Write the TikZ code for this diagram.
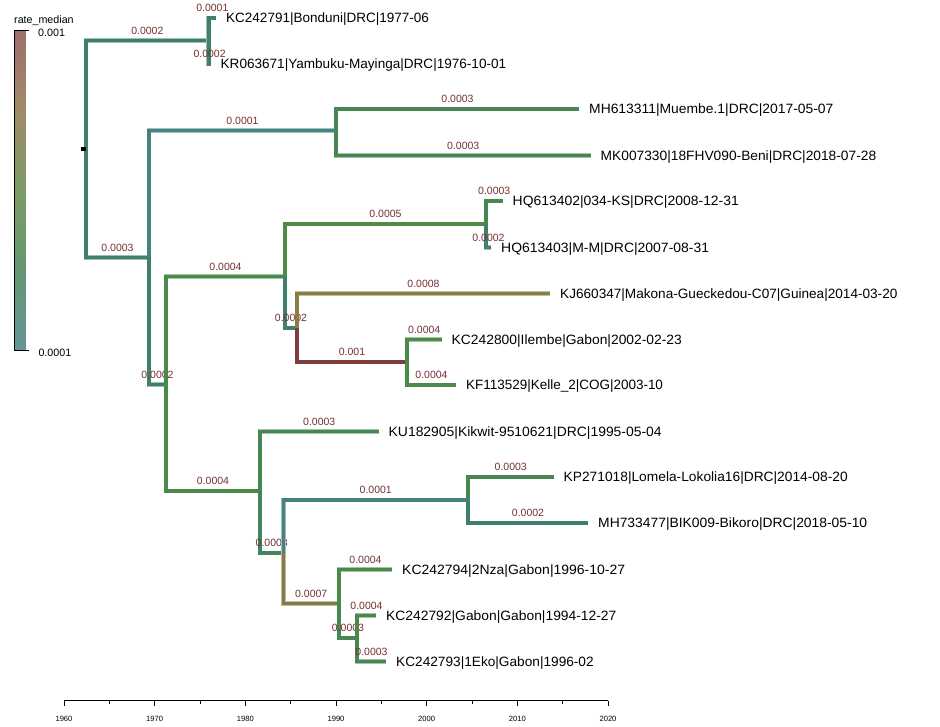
\documentclass[tikz,border=0pt]{standalone}
\usepackage{fontspec}
\usepackage{graphicx}
\setmainfont{Liberation Sans}
\usetikzlibrary{calc}
\definecolor{cA}{HTML}{458281}
\definecolor{cB}{HTML}{3F7F6C}
\definecolor{cC}{HTML}{488655}
\definecolor{cC2}{HTML}{44855F}
\definecolor{cD}{HTML}{4A8A48}
\definecolor{cE}{HTML}{4F8B42}
\definecolor{cO}{HTML}{877E45}
\definecolor{cO2}{HTML}{817C46}
\definecolor{cR}{HTML}{7E3D3D}
\definecolor{labc}{HTML}{762F2F}
\definecolor{lg0}{RGB}{160,110,110}
\definecolor{lg1}{RGB}{160,138,105}
\definecolor{lg2}{RGB}{125,155,100}
\definecolor{lg3}{RGB}{100,152,115}
\definecolor{lg4}{RGB}{100,150,150}
\tikzset{
  br/.style={draw=#1, line width=3.6pt, line join=miter, line cap=butt,
    preaction={draw=#1!50!white, line width=4.5pt}},
  lab/.style={anchor=base, inner sep=0pt, text=labc, font=\fontsize{10.5}{12}\selectfont},
  leaf/.style={anchor=base west, inner sep=0pt, xshift=10pt, yshift=-4.8pt, font=\fontsize{13.5}{16}\selectfont},
  lgd/.style={anchor=base west, inner sep=0pt, font=\fontsize{10.7}{12}\selectfont},
  axl/.style={anchor=base, inner sep=0pt, font=\fontsize{7.6}{9}\selectfont},
}
\newcommand{\tb}[4]{%
  \draw[br=#1] (#2) |- (#3);
  \node[lab] (lab-#3) at ($(#2 |- #3)!0.5!(#3)+(0,-6.2)$) {#4};}
\newcommand{\leafnode}[4]{%
  \node[leaf] (#1) at (#2) {\resizebox{#3pt}{\height}{#4}};}
\begin{document}
\begin{tikzpicture}[x=1pt,y=-1pt]
\useasboundingbox (0,0) rectangle (940,727);

% legend
\foreach \ya/\ca/\cb in {31/lg0/lg1, 111/lg1/lg2, 191/lg2/lg3, 271/lg3/lg4}{
  \foreach \k in {0,...,19}{
    \pgfmathtruncatemacro\t{\k*100/19}
    \fill[\cb!\t!\ca] (14.3,\ya+\k*4-0.1) rectangle (25.5,\ya+\k*4+4.1);
  }
}
\draw[line width=1pt] (29,31) -- (14,31) -- (14,351) -- (29,351);
\node[lgd] (lgtitle) at (14,24) {rate\_median};
\node[lgd] (lgmax) at (38,36.7) {0.001};
\node[lgd] (lgmin) at (38.3,356.5) {0.0001};

% axis
\draw[line width=0.9pt] (64,700.5) -- (608,700.5);
\foreach \i/\yr in {0/1960,1/1970,2/1980,3/1990,4/2000,5/2010,6/2020}{
  \draw[line width=0.9pt] (64+\i*90.667,700.5) -- (64+\i*90.667,705.5);
  \node[axl] (ax\i) at (64+\i*90.667,721) {\yr};
}
\foreach \i in {0,...,5}{
  \draw[line width=0.9pt] (109.33+\i*90.667,700.5) -- (109.33+\i*90.667,703.5);
}

% tree coordinates
\coordinate (stub) at (81,149.5);
\coordinate (root) at (86,149.5);
\coordinate (nT) at (208.7,40.5);
\coordinate (t1) at (216,18);
\coordinate (t2) at (210.5,64);
\coordinate (nU) at (149,257.5);
\coordinate (nC) at (336,130.5);
\coordinate (t3) at (579,109);
\coordinate (t4) at (590.5,155.5);
\coordinate (nV) at (166,384.5);
\coordinate (nA) at (285,276.5);
\coordinate (nA1) at (486,224);
\coordinate (t5) at (502.5,201);
\coordinate (t6) at (491,247.5);
\coordinate (nA2) at (297,328);
\coordinate (t7) at (550,293.5);
\coordinate (nR) at (407,362);
\coordinate (t8) at (441.5,339.5);
\coordinate (t9) at (456,385);
\coordinate (nB) at (260,491);
\coordinate (t10) at (378.5,431.5);
\coordinate (nB2) at (283.5,553);
\coordinate (nBl) at (468,500);
\coordinate (t11) at (553.5,477);
\coordinate (t12) at (588,523);
\coordinate (nBo) at (339,603.5);
\coordinate (t13) at (392,569.5);
\coordinate (nBq) at (357,638);
\coordinate (t14) at (376,615.5);
\coordinate (t15) at (386,661.5);

% branches
\tb{cB}{root}{nT}{0.0002}
\tb{cB}{nT}{t1}{0.0001}
\tb{cB}{nT}{t2}{0.0002}
\tb{cB}{root}{nU}{0.0003}
\tb{cA}{nU}{nC}{0.0001}
\tb{cC}{nC}{t3}{0.0003}
\tb{cC}{nC}{t4}{0.0003}
\tb{cB}{nU}{nV}{0.0002}
\tb{cD}{nV}{nA}{0.0004}
\tb{cE}{nA}{nA1}{0.0005}
\tb{cC}{nA1}{t5}{0.0003}
\tb{cB}{nA1}{t6}{0.0002}
\tb{cB}{nA}{nA2}{0.0002}
\tb{cO}{nA2}{t7}{0.0008}
\tb{cR}{nA2}{nR}{0.001}
\tb{cD}{nR}{t8}{0.0004}
\tb{cD}{nR}{t9}{0.0004}
\tb{cD}{nV}{nB}{0.0004}
\tb{cC}{nB}{t10}{0.0003}
\tb{cC2}{nB}{nB2}{0.0003}
\tb{cA}{nB2}{nBl}{0.0001}
\tb{cC}{nBl}{t11}{0.0003}
\tb{cB}{nBl}{t12}{0.0002}
\tb{cO2}{nB2}{nBo}{0.0007}
\tb{cD}{nBo}{t13}{0.0004}
\tb{cC}{nBo}{nBq}{0.0003}
\tb{cD}{nBq}{t14}{0.0004}
\tb{cC}{nBq}{t15}{0.0003}
\draw[line width=4pt, black] (stub) -- ++(4.7,0);

% leaf labels
\leafnode{x1}{t1}{202.8}{KC242791|Bonduni|DRC|1977-06}
\leafnode{x2}{t2}{285.5}{KR063671|Yambuku-Mayinga|DRC|1976-10-01}
\leafnode{x3}{t3}{244.2}{MH613311|Muembe.1|DRC|2017-05-07}
\leafnode{x4}{t4}{275.5}{MK007330|18FHV090-Beni|DRC|2018-07-28}
\leafnode{x5}{t5}{226.2}{HQ613402|034-KS|DRC|2008-12-31}
\leafnode{x6}{t6}{207.9}{HQ613403|M-M|DRC|2007-08-31}
\leafnode{x7}{t7}{337.2}{KJ660347|Makona-Gueckedou-C07|Guinea|2014-03-20}
\leafnode{x8}{t8}{230.2}{KC242800|Ilembe|Gabon|2002-02-23}
\leafnode{x9}{t9}{196.8}{KF113529|Kelle\_2|COG|2003-10}
\leafnode{x10}{t10}{273}{KU182905|Kikwit-9510621|DRC|1995-05-04}
\leafnode{x11}{t11}{284}{KP271018|Lomela-Lokolia16|DRC|2014-08-20}
\leafnode{x12}{t12}{269}{MH733477|BIK009-Bikoro|DRC|2018-05-10}
\leafnode{x13}{t13}{222.9}{KC242794|2Nza|Gabon|1996-10-27}
\leafnode{x14}{t14}{230.2}{KC242792|Gabon|Gabon|1994-12-27}
\leafnode{x15}{t15}{197.5}{KC242793|1Eko|Gabon|1996-02}
\end{tikzpicture}
\end{document}
